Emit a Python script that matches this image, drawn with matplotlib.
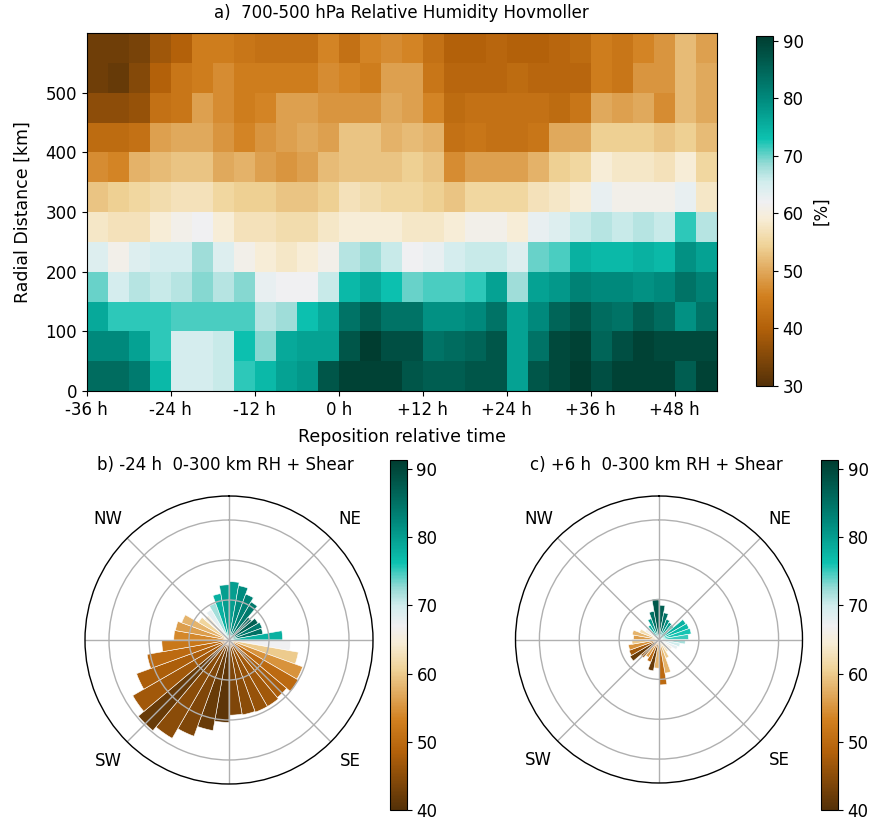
import numpy as np
import matplotlib
matplotlib.use("Agg")
import matplotlib.pyplot as plt
from matplotlib.colors import LinearSegmentedColormap, Normalize

# ---------------- data ----------------
# Hovmoller: time bins (3 h) from -36 h to +54 h, radial bins 0-600 km (50 km)
time_edges = np.arange(-36, 57, 3)
radius_edges = np.arange(0, 650, 50)

# RH rows, listed from the 0-50 km bin upward
rh_0_50     = [84,84,82,74,65,65,66,72,74,77,78,87,90,90,90, 87,86,86,87,87,77,87,89,91,88,90,90,90,86,90]
rh_50_100   = [80,80,77,72,65,65,66,73,69,76,77,77,87,91,88, 88,83,84,85,87,77,83,89,90,85,88,90,89,89,89]
rh_100_150  = [76,72,72,72,71,71,71,71,67,68,73,76,83,86,83, 83,79,79,80,83,77,80,85,87,84,83,86,84,79,83]
rh_150_200  = [70,65,67,66,67,69,67,69,63,62,62,66,74,76,73, 70,71,71,72,77,68,77,78,81,80,80,79,80,83,81]
rh_200_250  = [64,61,64,65,65,68,64,61,59,58,59,61,67,68,66, 62,63,65,66,66,64,70,71,75,74,74,75,74,79,77]
rh_250_300  = [58,57,57,59,61,62,59,57,57,56,56,58,59,59,59, 58,58,59,61,61,59,63,64,66,67,66,67,66,72,67]
rh_300_350  = [53,54,55,56,57,57,55,54,54,53,53,54,57,56,55, 55,54,53,55,55,55,57,58,59,63,61,61,61,63,58]
rh_350_400  = [47,46,51,52,53,53,50,51,49,48,49,52,53,53,53, 54,53,47,49,49,49,51,54,55,59,58,58,57,59,55]
rh_400_450  = [42,42,43,49,50,50,48,46,48,49,50,49,53,53,51, 52,51,43,44,43,43,44,50,50,54,54,54,53,54,52]
rh_450_500  = [36,36,37,43,44,49,47,45,46,49,49,48,48,48,50, 49,46,42,43,43,43,43,42,44,50,49,50,47,52,50]
rh_500_550  = [33,32,35,40,44,45,47,45,45,45,45,47,46,45,49, 49,44,41,41,41,42,41,41,41,45,44,48,48,52,50]
rh_550_600  = [33,33,34,38,40,45,45,44,43,43,43,46,43,46,47, 46,43,40,40,41,40,40,41,42,45,44,46,48,52,49]

time_ticks = [-36, -24, -12, 0, 12, 24, 36, 48]
time_ticklabels = ["-36 h", "-24 h", "-12 h", "0 h", "+12 h", "+24 h", "+36 h", "+48 h"]
radius_ticks = [0, 100, 200, 300, 400, 500]

# Polar panels: 10-degree direction bins (clockwise from north)
dir_deg = [0, 10, 20, 30, 40, 50, 60, 70, 80, 90, 100, 110, 120, 130, 140, 150, 160, 170,
           180, 190, 200, 210, 220, 230, 240, 250, 260, 270, 280, 290, 300, 310, 320, 330, 340, 350]

# b) -24 h
b_len = [7.3, 6.9, 6.1, 5.5, 3.7, 4.2, 4.4, 4.3, 6.7, 7.7, 8.8, 9.8, 10.0, 9.4, 9.6, 9.6, 9.5, 9.4,
         10.3, 11.5, 12.8, 14.2, 14.8, 13.9, 12.3, 10.4, 8.4, 6.9, 6.8, 6.3, 4.4, 4.0, 4.4, 4.9, 5.9, 6.9]
b_rh = [80, 82, 83, 84, 86, 87, 84, 85, 78, 67, 60, 55, 50, 48, 47, 46, 45, 44,
        41, 42, 44, 45, 42, 47, 48, 50, 52, 54, 56, 58, 61, 65, 68, 72, 78, 80]

# c) +6 h
c_len = [4.3, 3.4, 2.7, 2.5, 2.4, 3.9, 4.0, 4.1, 3.7, 3.3, 2.7, 2.5, 1.9, 1.4, 1.8, 2.5, 4.3, 5.7,
         3.6, 4.0, 3.0, 2.6, 3.0, 4.2, 4.0, 3.9, 3.4, 3.2, 3.4, 2.6, 2.0, 1.9, 2.1, 2.8, 3.6, 5.1]
c_rh = [87, 85, 82, 80, 79, 78, 77, 76, 75, 72, 70, 68, 66, 65, 63, 60, 58, 50,
        58, 42, 50, 56, 48, 42, 47, 55, 60, 56, 58, 62, 66, 70, 78, 80, 85, 88]

compass_labels = ["", "NE", "", "SE", "", "SW", "", "NW"]

# ---------------- colormap ----------------
cm_nodes = [
    (0.000, (0.33, 0.19, 0.03)),
    (0.164, (0.70, 0.38, 0.04)),
    (0.255, (0.82, 0.50, 0.12)),
    (0.329, (0.88, 0.66, 0.36)),
    (0.403, (0.94, 0.83, 0.60)),
    (0.477, (0.97, 0.93, 0.84)),
    (0.526, (0.94, 0.94, 0.95)),
    (0.584, (0.82, 0.93, 0.93)),
    (0.633, (0.60, 0.86, 0.84)),
    (0.707, (0.05, 0.76, 0.69)),
    (0.822, (0.00, 0.54, 0.49)),
    (0.921, (0.00, 0.37, 0.32)),
    (1.000, (0.00, 0.24, 0.19)),
]
cmap = LinearSegmentedColormap.from_list("rh", cm_nodes, N=256)

plt.rcParams["font.family"] = ["DejaVu Sans"]
plt.rcParams["font.size"] = 12

W, H = 872, 824
fig = plt.figure(figsize=(W / 100, H / 100), dpi=100)


def frac(x0, y0, x1, y1):
    return [x0 / W, 1 - y1 / H, (x1 - x0) / W, (y1 - y0) / H]


# ---------------- top: Hovmoller ----------------
ax = fig.add_axes(frac(86.7, 33, 716.7, 391))
rh = np.array([rh_0_50, rh_50_100, rh_100_150, rh_150_200, rh_200_250, rh_250_300,
               rh_300_350, rh_350_400, rh_400_450, rh_450_500, rh_500_550, rh_550_600])
norm_top = Normalize(vmin=30, vmax=90.8)
mesh = ax.pcolormesh(time_edges, radius_edges, rh, cmap=cmap, norm=norm_top, shading="flat")
ax.set_xticks(time_ticks)
ax.set_xticklabels(time_ticklabels)
ax.set_yticks(radius_ticks)
ax.set_xlim(-36, 54)
ax.set_ylim(0, 600)
ax.set_xlabel("Reposition relative time", fontsize=12.5, labelpad=7)
ax.set_ylabel("Radial Distance [km]", fontsize=12.5, labelpad=10)
fig.text(401.7 / W, 1 - 13 / H, "a)  700-500 hPa Relative Humidity Hovmoller",
         ha="center", va="center", fontsize=12)

cax = fig.add_axes(frac(756, 36, 773, 386))
cb = fig.colorbar(mesh, cax=cax, ticks=[30, 40, 50, 60, 70, 80, 90])
cb.set_label("[%]", fontsize=12, labelpad=6)
cb.outline.set_linewidth(0.8)


# ---------------- polar panels ----------------
def polar_panel(rect, lengths, rhs, title, title_xy, cax_rect):
    pax = fig.add_axes(rect, projection="polar")
    pax.set_theta_zero_location("N")
    pax.set_theta_direction(-1)
    norm_p = Normalize(vmin=40, vmax=91.3)
    colors = cmap(norm_p(np.array(rhs)))
    pax.bar(np.deg2rad(dir_deg), lengths, width=np.deg2rad(10), align="edge",
            color=colors, edgecolor="white", linewidth=0.4)
    pax.set_ylim(0, 18)
    pax.set_rgrids([5, 10, 15], labels=["", "", ""])
    pax.set_thetagrids(np.arange(0, 360, 45), labels=compass_labels, fontsize=12)
    pax.tick_params(axis="x", pad=9)
    pax.grid(True, color="#b0b0b0", linewidth=1.0)
    pax.spines["polar"].set_linewidth(1.0)
    fig.text(title_xy[0] / W, 1 - title_xy[1] / H, title, ha="center", va="center", fontsize=12)
    cax_p = fig.add_axes(cax_rect)
    sm = plt.cm.ScalarMappable(norm=norm_p, cmap=cmap)
    cbp = fig.colorbar(sm, cax=cax_p, ticks=[40, 50, 60, 70, 80, 90])
    cbp.outline.set_linewidth(0.8)
    return pax


polar_panel(frac(85, 496, 373, 784), b_len, b_rh, "b) -24 h  0-300 km RH + Shear",
            (225, 465), frac(390, 460, 406.7, 810))
polar_panel(frac(515.5, 496, 802.5, 783), c_len, c_rh, "c) +6 h  0-300 km RH + Shear",
            (656, 465), frac(821, 460, 838, 810))

fig.savefig("out.png", dpi=100)
